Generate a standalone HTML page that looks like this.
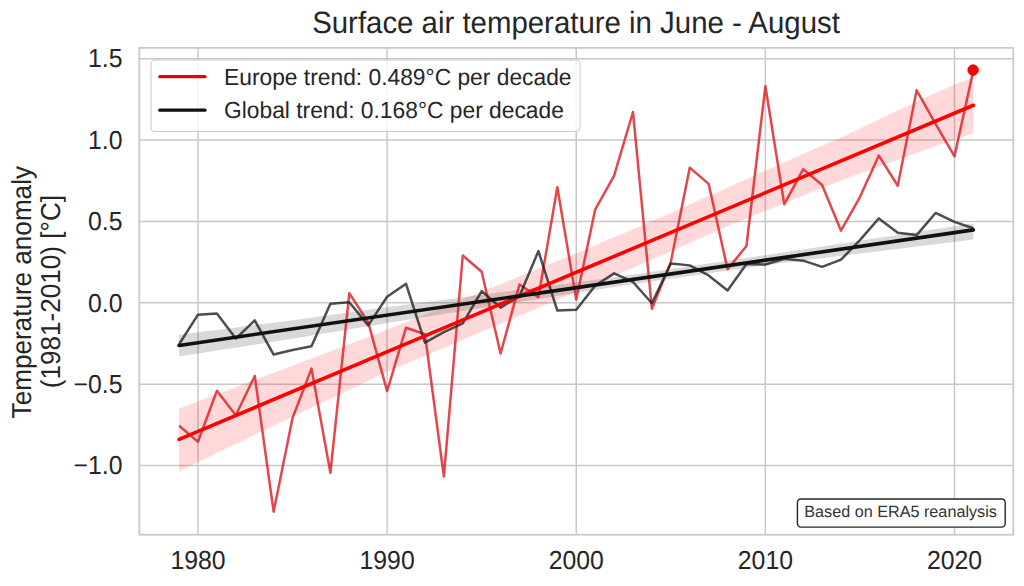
<!DOCTYPE html>
<html><head><meta charset="utf-8"><style>
html,body{margin:0;padding:0;background:#fff;}
svg{display:block;font-family:"Liberation Sans",sans-serif;text-rendering:geometricPrecision;}
</style></head><body>
<svg width="1024" height="586" viewBox="0 0 1024 586">
<rect x="0" y="0" width="1024" height="586" fill="#fff"/>
<g stroke="#c8c8c8" stroke-width="1.5" fill="none">
<line x1="139.3" x2="1013.3" y1="465.52" y2="465.52"/>
<line x1="139.3" x2="1013.3" y1="384.16" y2="384.16"/>
<line x1="139.3" x2="1013.3" y1="302.80" y2="302.80"/>
<line x1="139.3" x2="1013.3" y1="221.44" y2="221.44"/>
<line x1="139.3" x2="1013.3" y1="140.08" y2="140.08"/>
<line x1="139.3" x2="1013.3" y1="58.72" y2="58.72"/>
<line y1="47.9" y2="534.7" x1="198.00" x2="198.00"/>
<line y1="47.9" y2="534.7" x1="387.12" x2="387.12"/>
<line y1="47.9" y2="534.7" x1="576.25" x2="576.25"/>
<line y1="47.9" y2="534.7" x1="765.38" x2="765.38"/>
<line y1="47.9" y2="534.7" x1="954.50" x2="954.50"/>
</g>
<polygon points="179.09,408.52 188.54,404.95 198.00,401.38 207.46,397.82 216.91,394.25 226.37,390.68 235.82,387.11 245.28,383.54 254.74,379.97 264.19,376.40 273.65,372.84 283.11,369.27 292.56,365.70 302.02,362.11 311.48,358.52 320.93,354.94 330.39,351.35 339.84,347.76 349.30,344.18 358.76,340.59 368.21,337.00 377.67,333.42 387.12,329.83 396.58,326.00 406.04,322.18 415.49,318.35 424.95,314.52 434.41,310.69 443.86,306.87 453.32,303.04 462.78,299.21 472.23,295.39 481.69,291.56 491.14,287.73 500.60,283.91 510.06,280.08 519.51,276.25 528.97,272.42 538.42,268.60 547.88,264.77 557.34,260.94 566.79,257.12 576.25,253.29 585.71,249.26 595.16,245.24 604.62,241.21 614.08,237.18 623.53,233.16 632.99,229.13 642.44,225.10 651.90,221.07 661.36,217.05 670.81,213.02 680.27,208.79 689.73,204.57 699.18,200.34 708.64,196.11 718.09,191.89 727.55,187.66 737.01,183.43 746.46,179.20 755.92,174.98 765.38,170.75 774.83,166.52 784.29,162.30 793.74,158.15 803.20,154.01 812.66,149.87 822.11,145.72 831.57,141.58 841.03,137.44 850.48,132.96 859.94,128.48 869.39,124.00 878.85,119.53 888.31,115.05 897.76,110.57 907.22,106.10 916.68,101.62 926.13,97.14 935.59,92.67 945.04,88.74 954.50,84.81 963.96,80.88 973.41,76.96 973.41,133.16 963.96,136.41 954.50,139.66 945.04,142.91 935.59,146.17 926.13,149.59 916.68,153.02 907.22,156.45 897.76,159.87 888.31,163.30 878.85,166.73 869.39,170.15 859.94,173.58 850.48,177.01 841.03,180.44 831.57,184.25 822.11,188.06 812.66,191.87 803.20,195.68 793.74,199.49 784.29,203.30 774.83,207.11 765.38,210.92 755.92,214.73 746.46,218.54 737.01,222.35 727.55,226.16 718.09,230.39 708.64,234.61 699.18,238.84 689.73,243.07 680.27,247.29 670.81,251.52 661.36,255.55 651.90,259.57 642.44,263.60 632.99,267.63 623.53,271.66 614.08,275.68 604.62,279.71 595.16,283.74 585.71,287.76 576.25,291.79 566.79,295.79 557.34,299.79 547.88,303.80 538.42,307.80 528.97,311.80 519.51,315.80 510.06,319.80 500.60,323.81 491.14,327.81 481.69,331.81 472.23,335.81 462.78,339.81 453.32,343.82 443.86,347.82 434.41,351.82 424.95,355.82 415.49,359.82 406.04,363.83 396.58,367.83 387.12,371.83 377.67,376.31 368.21,380.78 358.76,385.26 349.30,389.74 339.84,394.21 330.39,398.69 320.93,403.17 311.48,407.64 302.02,412.12 292.56,416.60 283.11,421.16 273.65,425.72 264.19,430.28 254.74,434.84 245.28,439.40 235.82,443.96 226.37,448.52 216.91,453.08 207.46,457.64 198.00,462.20 188.54,466.76 179.09,471.32" fill="#f00" fill-opacity="0.15"/>
<polygon points="179.09,334.73 188.54,333.52 198.00,332.32 207.46,331.11 216.91,329.90 226.37,328.69 235.82,327.48 245.28,326.27 254.74,325.06 264.19,323.85 273.65,322.65 283.11,321.44 292.56,320.23 302.02,318.93 311.48,317.64 320.93,316.34 330.39,315.05 339.84,313.75 349.30,312.46 358.76,311.16 368.21,309.87 377.67,308.57 387.12,307.27 396.58,306.03 406.04,304.78 415.49,303.54 424.95,302.29 434.41,301.04 443.86,299.80 453.32,298.55 462.78,297.30 472.23,296.06 481.69,294.81 491.14,293.57 500.60,292.32 510.06,291.07 519.51,289.83 528.97,288.58 538.42,287.34 547.88,286.09 557.34,284.84 566.79,283.60 576.25,282.35 585.71,281.10 595.16,279.86 604.62,278.61 614.08,277.37 623.53,275.98 632.99,274.59 642.44,273.20 651.90,271.81 661.36,270.43 670.81,269.04 680.27,267.65 689.73,266.26 699.18,264.87 708.64,263.49 718.09,262.10 727.55,260.71 737.01,259.32 746.46,257.94 755.92,256.55 765.38,255.16 774.83,253.72 784.29,252.27 793.74,250.83 803.20,249.39 812.66,247.94 822.11,246.50 831.57,245.05 841.03,243.61 850.48,242.17 859.94,240.72 869.39,239.28 878.85,237.84 888.31,236.39 897.76,234.95 907.22,233.51 916.68,232.06 926.13,230.62 935.59,229.18 945.04,227.73 954.50,226.29 963.96,224.84 973.41,223.40 973.41,239.60 963.96,240.76 954.50,241.92 945.04,243.09 935.59,244.25 926.13,245.41 916.68,246.57 907.22,247.73 897.76,248.90 888.31,250.06 878.85,251.22 869.39,252.38 859.94,253.54 850.48,254.70 841.03,255.87 831.57,257.03 822.11,258.19 812.66,259.35 803.20,260.51 793.74,261.67 784.29,262.84 774.83,264.00 765.38,265.16 755.92,266.52 746.46,267.89 737.01,269.25 727.55,270.61 718.09,271.97 708.64,273.34 699.18,274.70 689.73,276.06 680.27,277.43 670.81,278.79 661.36,280.15 651.90,281.51 642.44,282.88 632.99,284.24 623.53,285.60 614.08,286.97 604.62,288.47 595.16,289.97 585.71,291.48 576.25,292.98 566.79,294.49 557.34,295.99 547.88,297.50 538.42,299.00 528.97,300.51 519.51,302.01 510.06,303.52 500.60,305.02 491.14,306.52 481.69,308.03 472.23,309.53 462.78,311.04 453.32,312.54 443.86,314.05 434.41,315.55 424.95,317.06 415.49,318.56 406.04,320.07 396.58,321.57 387.12,323.07 377.67,324.64 368.21,326.21 358.76,327.77 349.30,329.34 339.84,330.90 330.39,332.47 320.93,334.03 311.48,335.60 302.02,337.16 292.56,338.73 283.11,340.21 273.65,341.70 264.19,343.18 254.74,344.66 245.28,346.15 235.82,347.63 226.37,349.11 216.91,350.60 207.46,352.08 198.00,353.57 188.54,355.05 179.09,356.53" fill="#000" fill-opacity="0.15"/>
<polyline points="179.09,425.82 198.00,441.70 216.91,390.73 235.82,415.18 254.74,375.92 273.65,511.67 292.56,418.01 311.48,368.60 330.39,472.78 349.30,293.26 368.21,322.33 387.12,391.10 406.04,327.70 424.95,334.20 443.86,476.52 462.78,255.51 481.69,271.72 500.60,353.51 519.51,284.41 538.42,297.27 557.34,187.33 576.25,299.48 595.16,209.72 614.08,175.88 632.99,111.99 651.90,308.76 670.81,262.12 689.73,167.64 708.64,183.85 727.55,269.22 746.46,246.01 765.38,86.28 784.29,204.29 803.20,169.21 822.11,184.99 841.03,230.65 859.94,197.03 878.85,155.60 897.76,185.74 916.68,90.35 935.59,123.81 954.50,156.29 973.41,70.11" fill="none" stroke="#dc1e24" stroke-opacity="0.82" stroke-width="2.5" stroke-linejoin="round"/>
<polyline points="179.09,344.29 198.00,314.68 216.91,313.54 235.82,338.54 254.74,320.43 273.65,354.54 292.56,349.99 311.48,346.25 330.39,303.78 349.30,302.31 368.21,325.36 387.12,296.78 406.04,283.82 424.95,342.61 443.86,332.09 462.78,323.30 481.69,291.15 500.60,307.62 519.51,295.97 538.42,251.12 557.34,310.61 576.25,309.80 595.16,285.71 614.08,273.35 632.99,281.97 651.90,303.23 670.81,263.42 689.73,265.37 708.64,275.46 727.55,290.54 746.46,264.07 765.38,264.56 784.29,258.87 803.20,260.66 822.11,266.84 841.03,259.68 859.94,240.15 878.85,218.41 897.76,232.83 916.68,235.11 935.59,212.98 954.50,221.93 973.41,228.27" fill="none" stroke="#222" stroke-opacity="0.8" stroke-width="2.5" stroke-linejoin="round"/>
<line x1="179.09" y1="439.32" x2="973.41" y2="105.26" stroke="#f00" stroke-width="3.6" stroke-linecap="round"/>
<line x1="179.09" y1="345.43" x2="973.41" y2="229.90" stroke="#111" stroke-width="3.6" stroke-linecap="round"/>
<circle cx="973.11" cy="70.11" r="5.3" fill="#f00" stroke="#d00000" stroke-width="0.8"/>
<rect x="139.3" y="47.9" width="874.00" height="486.80" fill="none" stroke="#cccccc" stroke-width="1.9"/>
<g fill="#262626" font-size="24.8">
<text transform="translate(122.5,67.48) scale(1,1.05)" text-anchor="end">1.5</text>
<text transform="translate(122.5,148.84) scale(1,1.05)" text-anchor="end">1.0</text>
<text transform="translate(122.5,230.20) scale(1,1.05)" text-anchor="end">0.5</text>
<text transform="translate(122.5,311.56) scale(1,1.05)" text-anchor="end">0.0</text>
<text transform="translate(122.5,392.92) scale(1,1.05)" text-anchor="end">−0.5</text>
<text transform="translate(122.5,474.28) scale(1,1.05)" text-anchor="end">−1.0</text>
<text transform="translate(198.00,569.2) scale(1,1.05)" text-anchor="middle">1980</text>
<text transform="translate(387.12,569.2) scale(1,1.05)" text-anchor="middle">1990</text>
<text transform="translate(576.25,569.2) scale(1,1.05)" text-anchor="middle">2000</text>
<text transform="translate(765.38,569.2) scale(1,1.05)" text-anchor="middle">2010</text>
<text transform="translate(954.50,569.2) scale(1,1.05)" text-anchor="middle">2020</text>
</g>
<text transform="translate(576,33.0) scale(1,1.045)" text-anchor="middle" font-size="29.4" fill="#262626">Surface air temperature in June - August</text>
<g fill="#262626" font-size="26.1">
<text transform="translate(30.9,292.2) rotate(-90) scale(1,1.05)" text-anchor="middle">Temperature anomaly</text>
<text transform="translate(59.5,291.6) rotate(-90) scale(1,1.05)" text-anchor="middle">(1981-2010) [°C]</text>
</g>
<rect x="151" y="60" width="429" height="71.5" rx="4" ry="4" fill="#fff" fill-opacity="0.8" stroke="#cccccc" stroke-width="1.1"/>
<line x1="159.8" y1="76.7" x2="205" y2="76.7" stroke="#e60000" stroke-width="3.2" stroke-linecap="round"/>
<line x1="159.8" y1="110.2" x2="205" y2="110.2" stroke="#111" stroke-width="3.2" stroke-linecap="round"/>
<g fill="#262626" font-size="22.8">
<text transform="translate(224,84.5) scale(1,1.02)">Europe trend: 0.489°C per decade</text>
<text transform="translate(224,118.2) scale(1,1.02)">Global trend: 0.168°C per decade</text>
</g>
<rect x="797.4" y="499" width="207.8" height="28.1" rx="3.5" ry="3.5" fill="#fff" stroke="#262626" stroke-width="1.4"/>
<text x="804.3" y="517" font-size="16.2" fill="#333">Based on ERA5 reanalysis</text>
</svg>
</body></html>
